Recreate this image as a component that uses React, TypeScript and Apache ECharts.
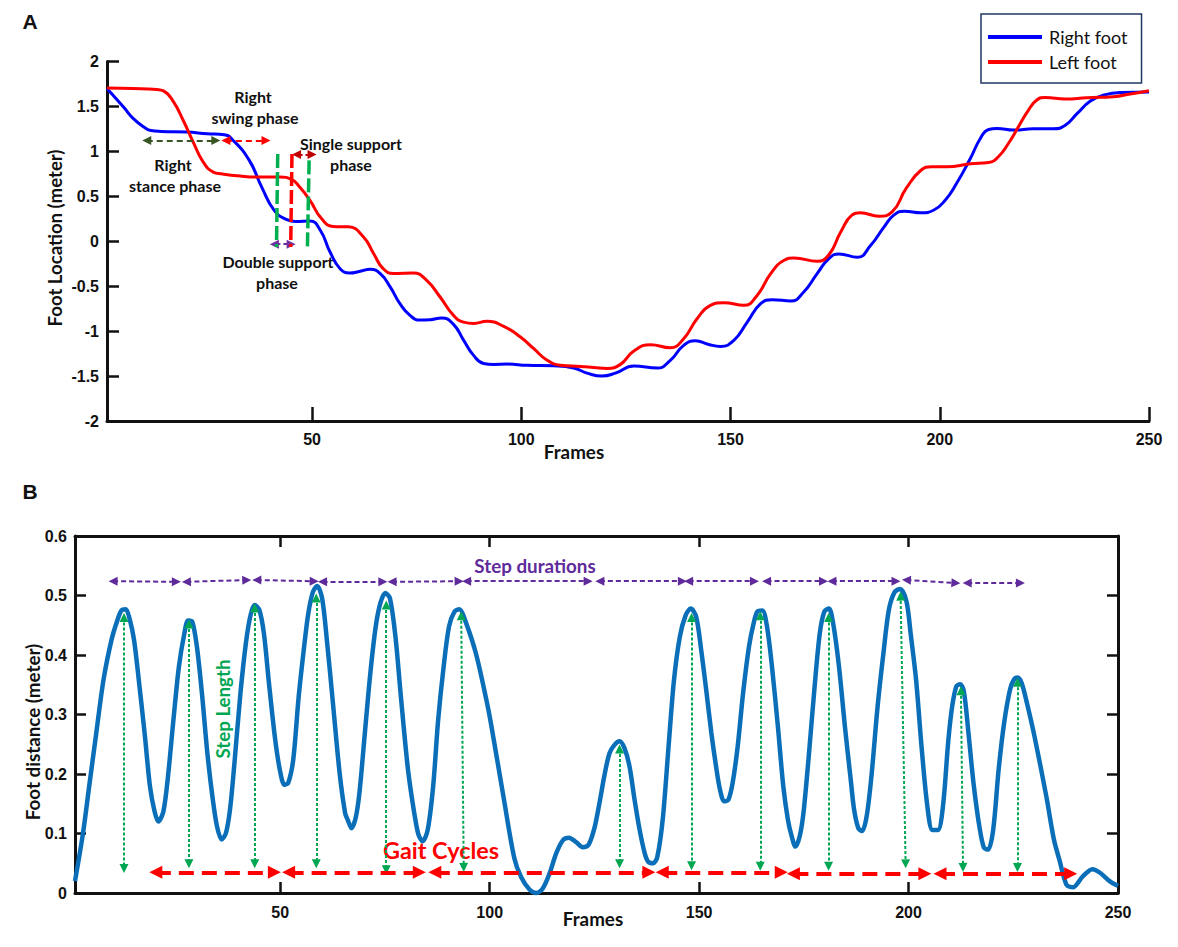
import React, { useEffect, useRef } from 'react';
import * as echarts from 'echarts';

const frameTicks = [50, 100, 150, 200, 250];

// Panel A: foot location
const rightFootFrames = [1, 5, 7.3, 10, 11.5, 14, 20, 25, 29, 31, 35, 38, 41, 44, 46, 49.5, 52, 54.3, 56.7, 59, 61.5, 63.9, 66.3, 68.7, 71, 73.4, 75.8, 78.2, 81, 83.8, 86.2, 88.6, 91, 93.4, 96.6, 101.4, 107.7, 112.5, 115.7, 119.3, 122.5, 126.9, 132.5, 135.6, 138.8, 141.6, 144.8, 147.6, 150.8, 154, 157.2, 160, 164.4, 167.5, 170.7, 173.5, 175.9, 180.3, 183.5, 186.7, 189, 191.5, 195.6, 198.5, 201.3, 204, 207.3, 209.7, 211.7, 213.7, 217.6, 222.4, 227.2, 230, 232.8, 236, 239.2, 243.1, 250];
const rightFootValues = [1.7, 1.49, 1.364, 1.265, 1.232, 1.222, 1.215, 1.197, 1.186, 1.13, 0.9, 0.6, 0.34, 0.24, 0.22, 0.225, 0.12, -0.12, -0.305, -0.353, -0.334, -0.312, -0.36, -0.51, -0.695, -0.825, -0.877, -0.873, -0.854, -0.925, -1.1, -1.27, -1.36, -1.37, -1.367, -1.38, -1.386, -1.41, -1.467, -1.5, -1.467, -1.389, -1.411, -1.326, -1.159, -1.107, -1.148, -1.17, -1.103, -0.899, -0.695, -0.65, -0.665, -0.565, -0.36, -0.193, -0.141, -0.178, -0.045, 0.16, 0.29, 0.334, 0.316, 0.345, 0.457, 0.643, 0.92, 1.144, 1.244, 1.255, 1.237, 1.252, 1.252, 1.29, 1.42, 1.56, 1.627, 1.656, 1.66];

const leftFootFrames = [1, 7.3, 12.9, 14.5, 16.9, 19.2, 21.6, 24, 26.4, 28.4, 32.8, 36.8, 42.4, 45.1, 47.1, 49.5, 52.3, 55.1, 58.7, 62.3, 64.7, 67, 69.5, 74.2, 77.4, 80.6, 83.8, 86.2, 88.6, 91.8, 95.8, 99.8, 103, 106, 109.3, 114.1, 117.3, 120.5, 123.7, 126.9, 130.9, 135.6, 138.8, 142, 145.2, 148.4, 153.2, 156.4, 159.6, 162.8, 165.2, 170.7, 173.5, 176.3, 179, 181, 185.5, 188.6, 192, 195.5, 198, 201.7, 207.3, 211.7, 214, 216.4, 218.8, 221.2, 223.2, 225.2, 230, 235.2, 241.5, 245.5, 250];
const leftFootValues = [1.706, 1.7, 1.688, 1.673, 1.55, 1.346, 1.104, 0.88, 0.77, 0.75, 0.725, 0.714, 0.714, 0.688, 0.6, 0.454, 0.25, 0.164, 0.16, 0.048, -0.137, -0.305, -0.36, -0.353, -0.435, -0.62, -0.825, -0.9, -0.914, -0.89, -0.947, -1.066, -1.196, -1.318, -1.38, -1.393, -1.404, -1.415, -1.37, -1.22, -1.151, -1.185, -1.085, -0.862, -0.713, -0.683, -0.713, -0.6, -0.36, -0.212, -0.186, -0.223, -0.15, 0.1, 0.29, 0.316, 0.279, 0.326, 0.59, 0.79, 0.828, 0.828, 0.862, 0.877, 0.94, 1.088, 1.274, 1.46, 1.571, 1.6, 1.582, 1.597, 1.608, 1.638, 1.675];

// Panel B: foot distance
const distanceFrames = [1, 2.9, 4.4, 6.1, 7.8, 9.7, 11, 12.1, 13.1, 14, 15.1, 16.4, 17.7, 18.9, 20, 20.9, 22.1, 23.2, 24.5, 25.8, 27.1, 28, 29, 30.1, 31.3, 32.6, 33.9, 34.9, 36, 37, 38, 39, 40.5, 41.8, 42.9, 43.9, 45, 46.1, 47.3, 48.7, 49.9, 51, 51.9, 53.1, 54.4, 55.7, 56.7, 57.8, 58.8, 60, 61.2, 62.5, 64.2, 65.5, 66.1, 67, 68, 68.9, 70.2, 71.5, 72.8, 73.9, 75.1, 76.2, 77.5, 78.8, 80.5, 82, 83, 84, 85.2, 86.5, 87.7, 89, 90.3, 91.6, 92.8, 94.1, 96.7, 99.2, 100.3, 103.5, 105.9, 107.5, 109.5, 111.1, 112.7, 114.3, 115.9, 117.5, 118.9, 120.7, 122.2, 123.6, 125, 126.2, 127.4, 128.6, 129.8, 131, 132.2, 133.4, 134.6, 135.8, 137, 137.8, 139, 140, 141.3, 142.7, 144, 145.4, 146.8, 148, 149.3, 150.5, 151.8, 152.9, 154.1, 155, 156, 157, 158, 159.2, 160.5, 161.9, 163, 163.9, 165.1, 166.2, 167.4, 168.8, 170.1, 171.2, 172, 173, 174, 174.9, 176.1, 177.5, 178.8, 179.9, 181, 182, 183.4, 184.8, 186.2, 187, 188, 188.9, 190, 191.2, 192.6, 194, 195.3, 196.7, 198, 199.5, 200.5, 201.8, 203.1, 204.5, 205.7, 207, 208.2, 209.5, 210.4, 211.4, 212.3, 213.2, 214.3, 215.5, 216.9, 218, 219, 220.2, 221.5, 222.8, 224.2, 225.1, 226, 227, 228.3, 230.1, 232.9, 234.7, 236, 237.7, 239.2, 241.6, 243.9, 245.7, 248, 250];
const distanceValues = [0.02, 0.1, 0.18, 0.27, 0.358, 0.425, 0.456, 0.475, 0.477, 0.462, 0.425, 0.347, 0.263, 0.179, 0.137, 0.12, 0.137, 0.196, 0.291, 0.38, 0.436, 0.458, 0.456, 0.414, 0.336, 0.235, 0.157, 0.112, 0.09, 0.1, 0.14, 0.213, 0.336, 0.42, 0.467, 0.484, 0.476, 0.436, 0.353, 0.263, 0.207, 0.182, 0.185, 0.224, 0.33, 0.414, 0.47, 0.506, 0.516, 0.495, 0.42, 0.325, 0.2, 0.134, 0.123, 0.109, 0.126, 0.168, 0.269, 0.369, 0.448, 0.487, 0.504, 0.495, 0.431, 0.33, 0.207, 0.134, 0.098, 0.087, 0.106, 0.179, 0.291, 0.38, 0.448, 0.473, 0.477, 0.459, 0.403, 0.325, 0.285, 0.153, 0.058, 0.027, 0.006, 0, 0.008, 0.033, 0.067, 0.089, 0.093, 0.085, 0.077, 0.081, 0.109, 0.151, 0.198, 0.235, 0.249, 0.255, 0.243, 0.212, 0.156, 0.106, 0.067, 0.053, 0.05, 0.06, 0.123, 0.246, 0.358, 0.431, 0.467, 0.478, 0.464, 0.408, 0.335, 0.27, 0.21, 0.173, 0.154, 0.157, 0.185, 0.246, 0.336, 0.414, 0.453, 0.473, 0.475, 0.448, 0.38, 0.28, 0.179, 0.123, 0.098, 0.078, 0.095, 0.134, 0.224, 0.341, 0.436, 0.473, 0.478, 0.453, 0.38, 0.28, 0.19, 0.14, 0.109, 0.104, 0.129, 0.201, 0.313, 0.403, 0.476, 0.506, 0.511, 0.49, 0.436, 0.358, 0.246, 0.145, 0.106, 0.106, 0.145, 0.257, 0.313, 0.347, 0.351, 0.339, 0.269, 0.185, 0.112, 0.076, 0.073, 0.106, 0.207, 0.285, 0.341, 0.358, 0.362, 0.353, 0.318, 0.262, 0.162, 0.09, 0.056, 0.014, 0.0095, 0.028, 0.04, 0.034, 0.02, 0.012];

// annotation segments: [frame0, value0, frame1, value1]
const stanceArrow = [[10.5, 1.12, 27, 1.12]];
const swingArrow = [[29.4, 1.12, 39, 1.12]];
const singleArrow = [[46.3, 0.966, 50, 0.966]];
const doubleArrow = [[41, -0.033, 45, -0.033]];
const greenMarkers = [[41.8, 0.97, 41.5, -0.063], [49.3, 0.9, 48.9, -0.063]];
const redMarker = [[45.2, 0.97, 44.9, -0.063]];

const stepDurations = [[10.1, 0.524, 25.2, 0.523], [27.6, 0.523, 42, 0.526], [44.4, 0.526, 58.1, 0.524], [60.1, 0.523, 74.5, 0.523], [76.7, 0.523, 92.7, 0.524], [94.5, 0.524, 123.5, 0.524], [126.3, 0.524, 146, 0.524], [147.5, 0.524, 163.2, 0.524], [166.1, 0.524, 179.7, 0.524], [181.7, 0.524, 197, 0.524], [199.5, 0.526, 211.3, 0.521], [214, 0.521, 226.7, 0.521]];
const stepLengths = [[12.7, 0.463, 12.7, 0.041], [28.2, 0.452, 28.2, 0.049], [43.9, 0.479, 43.9, 0.049], [58.6, 0.496, 58.6, 0.049], [75.3, 0.484, 75.3, 0.039], [93.2, 0.466, 93.8, 0.043], [131, 0.242, 131, 0.049], [148.2, 0.463, 148.2, 0.046], [164.6, 0.466, 164.6, 0.045], [180.9, 0.463, 180.9, 0.045], [198.1, 0.499, 199.3, 0.049], [212.5, 0.34, 213, 0.043], [226, 0.354, 226, 0.043]];
const gaitCycles = [[20.3, 0.0347, 48.6, 0.0347], [52, 0.0347, 83.2, 0.0347], [86.9, 0.0347, 138, 0.0347], [141.2, 0.0347, 169.6, 0.0347], [172.5, 0.0325, 203.9, 0.0325], [207.5, 0.0325, 238.7, 0.0325]];

const zip = (xs: number[], ys: number[]) => xs.map((x, i) => [x, ys[i]]);

const TICK_FONT = { fontFamily: 'Liberation Sans', fontWeight: 'bold' as const, fontSize: 16, color: '#111' };
const AXIS_LINE = { lineStyle: { color: '#111', width: 3 } };
const NOTE_FONT = 'Lato';

const segmentSeries = (
  name: string,
  segments: number[][],
  axis: number,
  color: string,
  width: number,
  dash: number[],
  size: number,
  arrows = true,
) => ({
  type: 'line',
  name,
  xAxisIndex: axis,
  yAxisIndex: axis,
  data: [],
  silent: true,
  markLine: {
    silent: true,
    animation: false,
    symbol: arrows ? ['triangle', 'triangle'] : ['none', 'none'],
    symbolSize: size,
    label: { show: false },
    itemStyle: { color },
    lineStyle: { color, width, type: dash, opacity: 1 },
    data: segments.map(([x0, y0, x1, y1]) => [{ coord: [x0, y0] }, { coord: [x1, y1] }]),
  },
});

const note = (text: string, x: number, y: number, fontSize = 16, fill = '#111', rotation = 0, fontFamily = NOTE_FONT) => ({
  type: 'text',
  x,
  y,
  rotation,
  style: {
    text,
    fill,
    fontSize,
    fontFamily,
    fontWeight: 'bold',
    textAlign: 'center',
    textVerticalAlign: 'middle',
  },
});

const App: React.FC = () => {
  const chartRef = useRef<HTMLDivElement>(null);

  useEffect(() => {
    if (!chartRef.current) return;
    const chart = echarts.init(chartRef.current, null, { renderer: 'svg' });

    const option: any = {
      animation: false,
      backgroundColor: '#fff',
      grid: [
        { left: 107, top: 61.5, width: 1042, height: 359.5 },
        { left: 75, top: 536, width: 1043, height: 357 },
      ],
      legend: {
        data: ['Right foot', 'Left foot'],
        icon: 'rect',
        orient: 'vertical',
        left: 981,
        top: 14,
        width: 162,
        padding: [14, 14, 12, 7],
        itemGap: 7,
        itemWidth: 54,
        itemHeight: 4,
        borderColor: '#1f3864',
        borderWidth: 1.5,
        borderRadius: 0,
        backgroundColor: '#fff',
        textStyle: { fontFamily: NOTE_FONT, fontSize: 18, color: '#111', padding: [0, 0, 0, 2] },
      },
      xAxis: [
        {
          gridIndex: 0,
          type: 'value',
          min: 1,
          max: 250,
          splitLine: { show: false },
          axisLine: { ...AXIS_LINE, onZero: false },
          axisTick: { inside: true, length: 14, lineStyle: { color: '#111', width: 2.5 }, customValues: frameTicks },
          axisLabel: { ...TICK_FONT, margin: 10, customValues: frameTicks },
        },
        {
          gridIndex: 1,
          type: 'value',
          min: 1,
          max: 250,
          splitLine: { show: false },
          axisLine: { ...AXIS_LINE, onZero: false },
          axisTick: { inside: true, length: 11, lineStyle: { color: '#111', width: 2.5 }, customValues: frameTicks },
          axisLabel: { ...TICK_FONT, margin: 11, customValues: frameTicks },
        },
        {
          gridIndex: 1,
          type: 'value',
          position: 'top',
          min: 1,
          max: 250,
          splitLine: { show: false },
          axisLine: { ...AXIS_LINE, onZero: false },
          axisTick: { inside: true, length: 11, lineStyle: { color: '#111', width: 2.5 }, customValues: frameTicks },
          axisLabel: { show: false },
        },
      ],
      yAxis: [
        {
          gridIndex: 0,
          type: 'value',
          min: -2,
          max: 2,
          interval: 0.5,
          splitLine: { show: false },
          axisLine: { show: true, ...AXIS_LINE, onZero: false },
          axisTick: { show: true, inside: true, length: 12, lineStyle: { color: '#111', width: 2.5 } },
          axisLabel: { ...TICK_FONT, margin: 8 },
        },
        {
          gridIndex: 1,
          type: 'value',
          min: 0,
          max: 0.6,
          interval: 0.1,
          splitLine: { show: false },
          axisLine: { show: true, ...AXIS_LINE, onZero: false },
          axisTick: { show: true, inside: true, length: 11, lineStyle: { color: '#111', width: 2.5 } },
          axisLabel: { ...TICK_FONT, margin: 8 },
        },
        {
          gridIndex: 1,
          type: 'value',
          position: 'right',
          min: 0,
          max: 0.6,
          interval: 0.1,
          splitLine: { show: false },
          axisLine: { show: true, ...AXIS_LINE, onZero: false },
          axisTick: { show: true, inside: true, length: 11, lineStyle: { color: '#111', width: 2.5 } },
          axisLabel: { show: false },
        },
      ],
      series: [
        {
          name: 'Right foot',
          type: 'line',
          xAxisIndex: 0,
          yAxisIndex: 0,
          showSymbol: false,
          symbol: 'none',
          smooth: 0.5,
          itemStyle: { color: '#0000ff' },
          lineStyle: { color: '#0000ff', width: 3 },
          data: zip(rightFootFrames, rightFootValues),
        },
        {
          name: 'Left foot',
          type: 'line',
          xAxisIndex: 0,
          yAxisIndex: 0,
          showSymbol: false,
          symbol: 'none',
          smooth: 0.5,
          itemStyle: { color: '#ff0000' },
          lineStyle: { color: '#ff0000', width: 3 },
          data: zip(leftFootFrames, leftFootValues),
        },
        segmentSeries('Right stance', stanceArrow, 0, '#375623', 2, [6, 4], 9),
        segmentSeries('Right swing', swingArrow, 0, '#ff0000', 2, [6, 4], 9),
        segmentSeries('Single support', singleArrow, 0, '#c00000', 2, [6, 3], 9),
        segmentSeries('Double support', doubleArrow, 0, '#7030a0', 2, [6, 3], 9),
        segmentSeries('Phase bounds', greenMarkers, 0, '#00b050', 3.5, [14, 4], 0, false),
        segmentSeries('Phase split', redMarker, 0, '#ff0000', 3.5, [14, 4], 0, false),
        {
          name: 'Foot distance',
          type: 'line',
          xAxisIndex: 1,
          yAxisIndex: 1,
          showSymbol: false,
          symbol: 'none',
          smooth: 0.3,
          clip: false,
          lineStyle: { color: '#0a6fb8', width: 4.5 },
          data: zip(distanceFrames, distanceValues),
        },
        segmentSeries('Step durations', stepDurations, 1, '#5f2a9a', 2, [5, 3], 9),
        segmentSeries('Step length', stepLengths, 1, '#00a651', 2, [3, 2], 9),
        segmentSeries('Gait cycles', gaitCycles, 1, '#ff0000', 4, [15, 8], 13),
      ],
      graphic: [
        note('A', 30, 21, 21, '#111', 0, 'Liberation Sans'),
        note('B', 30, 491, 21, '#111', 0, 'Liberation Sans'),
        note('Right', 253, 96),
        note('swing phase', 255, 117),
        note('Right', 173, 164),
        note('stance phase', 175, 185),
        note('Single support', 351, 143),
        note('phase', 351, 164),
        note('Double support', 278, 261),
        note('phase', 277, 282),
        note('Frames', 574, 451, 18.8),
        note('Frames', 593, 918, 18.8),
        note('Foot Location (meter)', 55, 238, 18.6, '#111', Math.PI / 2),
        note('Foot distance (meter)', 32, 732, 18.8, '#111', Math.PI / 2),
        note('Step durations', 535, 565, 18.8, '#5f2a9a'),
        note('Step Length', 223, 709, 18.7, '#00a651', Math.PI / 2),
        note('Gait Cycles', 441, 850, 23.4, '#ff0000'),
      ],
    };

    chart.setOption(option);

    return () => {
      chart.dispose();
    };
  }, []);

  return (
    <div
      ref={chartRef}
      style={{ position: 'absolute', left: 0, top: 0, width: 1178, height: 947 }}
    />
  );
};

export default App;
